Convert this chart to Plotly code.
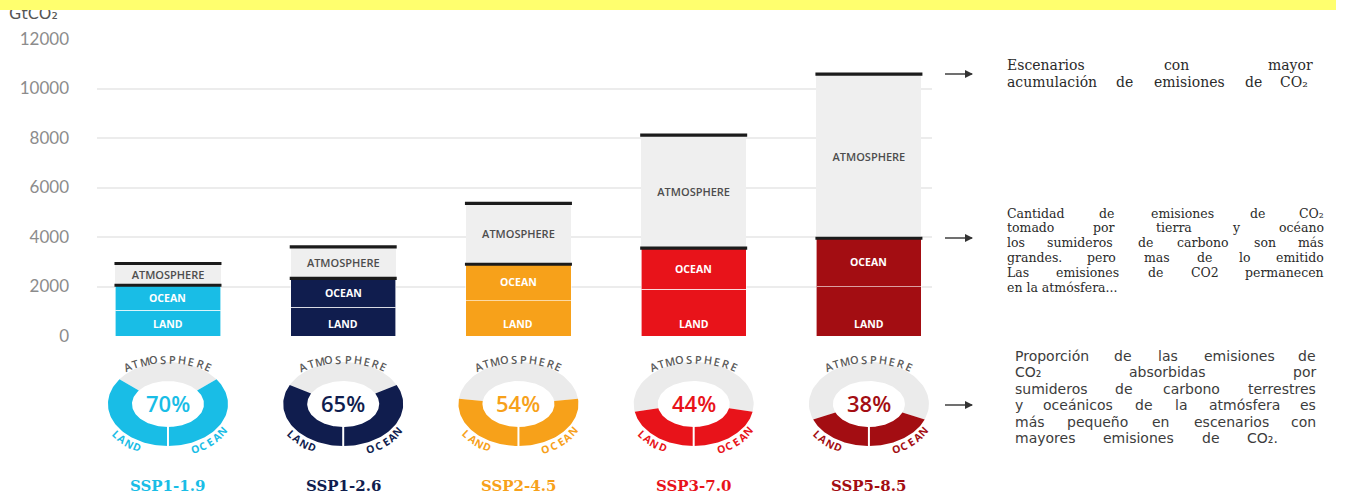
import math
import unicodedata
import plotly.graph_objects as go

W, H = 1345, 497

# ---------------- data ----------------
scenarios = ["SSP1-1.9", "SSP1-2.6", "SSP2-4.5", "SSP3-7.0", "SSP5-8.5"]
land = [1040, 1170, 1430, 1890, 1990]
ocean = [1010, 1160, 1470, 1660, 1960]
atmosphere = [880, 1270, 2460, 4570, 6630]
sink_pct = [70, 65, 54, 44, 38]
colors = ["#19BDE6", "#101D4E", "#F7A11A", "#E8131A", "#A30D12"]
ytick_vals = [0, 2000, 4000, 6000, 8000, 10000, 12000]
ytick_text = ["0", "2000", "4000", "6000", "8000", "10000", "12000"]
unit_label = "GtCO₂"

note1 = ["Escenarios con mayor",
         "acumulación de emisiones de CO₂"]
note2 = ["Cantidad de emisiones de CO₂",
         "tomado por tierra y océano",
         "los sumideros de carbono son más",
         "grandes. pero mas de lo emitido",
         "Las emisiones de CO2 permanecen",
         "en la atmósfera..."]
note3 = ["Proporción de las emisiones de",
         "CO₂ absorbidas por",
         "sumideros de carbono terrestres",
         "y oceánicos de la atmósfera es",
         "más pequeño en escenarios con",
         "mayores emisiones de CO₂."]

# ---------------- geometry helpers ----------------
def px(x):
    return x / W


def py(y):
    return 1 - y / H


X_DOM_PX = (97, 932)
X_RANGE = [-0.405, 4.36]
PX_PER_X = (X_DOM_PX[1] - X_DOM_PX[0]) / (X_RANGE[1] - X_RANGE[0])

idx = list(range(len(scenarios)))
BAR_W = 0.6

fig = go.Figure()
annotations = []

# ---------------- stacked bars ----------------
fig.add_trace(go.Bar(
    x=idx, y=land, width=BAR_W,
    marker=dict(color=colors, line=dict(color="rgba(255,255,255,0.6)", width=1)),
    hoverinfo="skip"))
fig.add_trace(go.Bar(
    x=idx, y=ocean, width=BAR_W,
    marker=dict(color=colors, line=dict(color="rgba(255,255,255,0.6)", width=1)),
    hoverinfo="skip"))
fig.add_trace(go.Bar(
    x=idx, y=atmosphere, width=BAR_W,
    marker=dict(color="#EFEFEF", line=dict(width=0)),
    text=["ATMOSPHERE"] * len(idx), textposition="inside", insidetextanchor="middle",
    textangle=0, textfont=dict(family="Open Sans", size=11, color="#4d4d4d", weight=600),
    hoverinfo="skip"))

bar_font = dict(family="Open Sans", size=10.5, color="white", weight="bold")
for i in idx:
    annotations.append(dict(x=i, y=0, xref="x", yref="y", yshift=12, text="LAND",
                            showarrow=False, xanchor="center", yanchor="middle", font=bar_font))
    annotations.append(dict(x=i, y=land[i] + ocean[i] / 2, xref="x", yref="y", text="OCEAN",
                            showarrow=False, xanchor="center", yanchor="middle", font=bar_font))

land_ocean = [l + o for l, o in zip(land, ocean)]
totals = [l + o + a for l, o, a in zip(land, ocean, atmosphere)]
# line-ew symbol length is 1.4 x marker size
fig.add_trace(go.Scatter(
    x=idx + idx, y=land_ocean + totals, mode="markers",
    marker=dict(symbol="line-ew", size=107 / 1.4, line=dict(color="#1b1b1b", width=3.2)),
    hoverinfo="skip", cliponaxis=False))

# ---------------- donuts ----------------
CY, RY, RYI = 404, 42, 23
RX, RXI = 60 / PX_PER_X, 36 / PX_PER_X


def ring(i, a0, a1, n=60):
    xs, ys = [], []
    for k in range(n + 1):
        a = math.radians(a0 + (a1 - a0) * k / n)
        xs.append(i + RX * math.cos(a))
        ys.append(CY - RY * math.sin(a))
    for k in range(n, -1, -1):
        a = math.radians(a0 + (a1 - a0) * k / n)
        xs.append(i + RXI * math.cos(a))
        ys.append(CY - RYI * math.sin(a))
    xs.append(xs[0])
    ys.append(ys[0])
    return xs, ys


def arc_text(i, word, theta_c, step, rx, ry, cy, font):
    """Letters of `word` along an ellipse arc; step<0 runs clockwise (top arcs)."""
    n = len(word)
    sgn = 1 if step > 0 else -1
    for k, ch in enumerate(word):
        th = math.radians(theta_c + (k - (n - 1) / 2) * step)
        x = i + rx * math.cos(th) / PX_PER_X
        y = cy - ry * math.sin(th)
        dx, dy = -sgn * rx * math.sin(th), -sgn * ry * math.cos(th)
        ang = math.degrees(math.atan2(dy, dx))
        annotations.append(dict(x=x, y=y, xref="x", yref="y3", text=ch, showarrow=False,
                                textangle=ang, xanchor="center", yanchor="middle", font=font))


for i, p in enumerate(sink_pct):
    f = p / 100.0
    parts = [(270 + 180 * f, 630 - 180 * f, "#EBEBEB"),
             (270 - 180 * f, 270, colors[i]),
             (270, 270 + 180 * f, colors[i])]
    for a0, a1, c in parts:
        xs, ys = ring(i, a0, a1)
        fig.add_trace(go.Scatter(x=xs, y=ys, xaxis="x", yaxis="y3", mode="lines",
                                 fill="toself", fillcolor=c, line=dict(width=0, color=c),
                                 hoverinfo="skip"))
    fig.add_trace(go.Scatter(x=[i, i], y=[CY + RYI - 1, CY + RY + 1], xaxis="x", yaxis="y3",
                             mode="lines", line=dict(color="white", width=2), hoverinfo="skip"))
    # percentage
    annotations.append(dict(x=i, y=CY - 1, xref="x", yref="y3", text=f"{p}%", showarrow=False,
                            xanchor="center", yanchor="middle",
                            font=dict(family="Open Sans", size=22, color=colors[i], weight=600)))
    # curved labels
    arc_text(i, "ATMOSPHERE", 90, -80 / 9, 62, 34, 393,
             dict(family="Open Sans", size=11, color="#5a5a5a", weight=600))
    lab_font = dict(family="Open Sans", size=10.5, color=colors[i], weight="bold")
    arc_text(i, "LAND", 230, 8.0, 66, 49, CY, lab_font)
    arc_text(i, "OCEAN", 310, 8.0, 66, 49, CY, lab_font)
    annotations.append(dict(x=i, y=486, xref="x", yref="y3", text=scenarios[i],
                            showarrow=False, xanchor="center", yanchor="middle",
                            font=dict(family="DejaVu Serif", size=15, color=colors[i],
                                      weight="bold")))

# ---------------- unit label (trace, so the banner can overlap it) ----------------
fig.add_trace(go.Scatter(x=[9], y=[15], xaxis="x2", yaxis="y3", mode="text", text=[unit_label],
                         textposition="middle right",
                         textfont=dict(family="DejaVu Sans", size=16, color="#555555"),
                         hoverinfo="skip", cliponaxis=False))

# ---------------- arrows to the notes ----------------
for yy in (74, 238, 405):
    fig.add_trace(go.Scatter(x=[945, 972], y=[yy, yy], xaxis="x2", yaxis="y3", mode="lines",
                             line=dict(color="#333333", width=1.4), hoverinfo="skip",
                             cliponaxis=False))
    fig.add_trace(go.Scatter(x=[973], y=[yy], xaxis="x2", yaxis="y3", mode="markers",
                             marker=dict(symbol="arrow-right", size=8, color="#333333",
                                         line=dict(width=0)),
                             hoverinfo="skip", cliponaxis=False))

# ---------------- notes on the right ----------------
SERIF = {"a": .596, "b": .640, "c": .560, "d": .640, "e": .592, "f": .370, "g": .640, "h": .644,
         "i": .320, "j": .310, "k": .600, "l": .320, "m": .948, "n": .644, "o": .602, "p": .640,
         "q": .640, "r": .478, "s": .513, "t": .402, "u": .644, "v": .565, "w": .856, "x": .564,
         "y": .565, "z": .523, "C": .715, "E": .729, "L": .653, "P": .684, "O": .787, "A": .722,
         " ": .318, ".": .318, ",": .318, "2": .636, "₂": .40}
SANS = {"a": .613, "b": .635, "c": .550, "d": .635, "e": .615, "f": .352, "g": .635, "h": .634,
        "i": .278, "j": .278, "k": .579, "l": .278, "m": .974, "n": .634, "o": .612, "p": .635,
        "q": .635, "r": .411, "s": .521, "t": .392, "u": .634, "v": .592, "w": .818, "x": .592,
        "y": .592, "z": .525, "C": .698, "O": .787, "P": .603, " ": .318, ".": .318, ",": .318,
        "2": .636, "₂": .40}


def est_width(word, table, size):
    total = 0.0
    for c in word:
        b = unicodedata.normalize("NFD", c)[0]
        total += table.get(b, 0.62)
    return total * size


def note_block(lines, left, rights, ys, family, size, color, table):
    for line, right, y in zip(lines, rights, ys):
        font = dict(family=family, size=size, color=color)
        words = line.split(" ")
        if right is None or len(words) == 1:
            annotations.append(dict(x=px(left), y=py(y), xref="paper", yref="paper", text=line,
                                    showarrow=False, xanchor="left", yanchor="middle", font=font))
            continue
        widths = [est_width(w, table, size) for w in words]
        gap = (right - left - sum(widths)) / (len(words) - 1)
        pos = left
        for k, (w, wd) in enumerate(zip(words, widths)):
            if k == 0:
                xx, anc = left, "left"
            elif k == len(words) - 1:
                xx, anc = right, "right"
            else:
                xx, anc = pos + wd / 2, "center"
            annotations.append(dict(x=px(xx), y=py(y), xref="paper", yref="paper", text=w,
                                    showarrow=False, xanchor=anc, yanchor="middle", font=font))
            pos += wd + gap


note_block(note1, 1005, [1315, 1310], [65, 82], "DejaVu Serif", 14, "#2a2a2a", SERIF)
note_block(note2, 1005, [1326, 1326, 1326, 1326, 1326, None],
           [213, 227.8, 242.6, 257.4, 272.2, 287], "DejaVu Serif", 12.5, "#2a2a2a", SERIF)
note_block(note3, 1013, [1318, 1318, 1318, 1318, 1318, 1280],
           [356, 372.4, 388.8, 405.2, 421.6, 438], "DejaVu Sans", 14, "#3c3c3c", SANS)

# ---------------- layout ----------------
fig.update_layout(
    width=W, height=H, margin=dict(l=0, r=0, t=0, b=0, autoexpand=False),
    paper_bgcolor="white", plot_bgcolor="rgba(0,0,0,0)",
    barmode="stack", showlegend=False,
    xaxis=dict(domain=[px(X_DOM_PX[0]), px(X_DOM_PX[1])], range=X_RANGE, visible=False,
               anchor="y"),
    yaxis=dict(domain=[py(336), py(39)], range=[0, 12000], tickvals=ytick_vals,
               ticktext=ytick_text, showgrid=True, gridcolor="#ECECEC", gridwidth=1.5,
               zeroline=False, showline=False, ticks="", ticklabelstandoff=27,
               tickfont=dict(family="Lato", size=17, color="#8c8c8c"), anchor="x"),
    yaxis3=dict(domain=[0, 1], range=[H, 0], visible=False, anchor="x"),
    xaxis2=dict(domain=[0, 1], range=[0, W], visible=False, anchor="y3"),
    annotations=annotations,
    shapes=[dict(type="rect", xref="paper", yref="paper", x0=0, x1=px(1336), y0=py(10), y1=1,
                 fillcolor="#FFFF6E", line=dict(width=0), layer="above")],
)

fig.write_html("out.html", config={"displayModeBar": False},
               post_script="document.body.style.margin='0';")
